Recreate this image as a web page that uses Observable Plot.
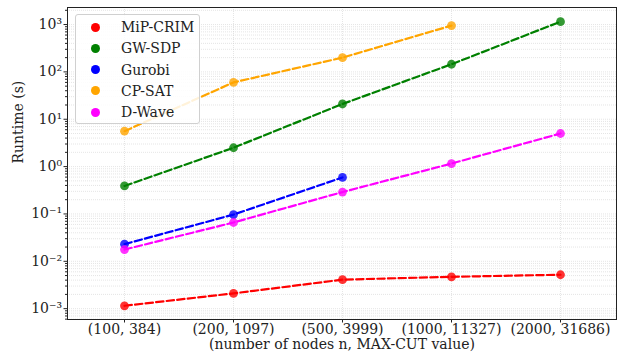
<!DOCTYPE html>
<html>
<head>
<meta charset="utf-8">
<script src="https://cdn.jsdelivr.net/npm/d3@7"></script>
<script src="https://cdn.jsdelivr.net/npm/@observablehq/plot@0.6"></script>
<style>
  html, body { margin: 0; padding: 0; background: white; }
  #wrap { position: relative; width: 622px; height: 354px; font-family: "DejaVu Serif", "Liberation Serif", serif; }
  #wrap svg, #wrap svg text { font-family: "DejaVu Serif", "Liberation Serif", serif !important; }
  #legend {
    position: absolute; left: 75px; top: 14px; width: 125px; height: 110px;
    box-sizing: border-box; border: 1px solid #d0d0d0; border-radius: 3px;
    background: rgba(255,255,255,0.85); font-size: 14px; color: #222;
  }
  .row { position: absolute; left: 0; height: 20px; display: flex; align-items: center; white-space: nowrap; }
  .sw { width: 9px; height: 9px; border-radius: 50%; margin-left: 15px; margin-right: 21px; }
</style>
</head>
<body>
<div id="wrap"></div>
<script>
const categories = ["(100, 384)", "(200, 1097)", "(500, 3999)", "(1000, 11327)", "(2000, 31686)"];
const seriesNames = ["MiP-CRIM", "GW-SDP", "Gurobi", "CP-SAT", "D-Wave"];
const seriesColors = ["#ff0000", "#008000", "#0000ff", "#ffa500", "#ff00ff"];
const mipCrim = [0.00115, 0.0021, 0.0041, 0.0047, 0.0052];
const gwSdp = [0.39, 2.5, 21, 145, 1150];
const gurobi = [0.023, 0.097, 0.59];
const cpSat = [5.6, 60, 200, 950];
const dWave = [0.0177, 0.066, 0.29, 1.16, 5.0];
const yTickExponents = [-3, -2, -1, 0, 1, 2, 3];

const seriesValues = [mipCrim, gwSdp, gurobi, cpSat, dWave];
const rows = [];
seriesValues.forEach((vals, si) => {
  vals.forEach((v, i) => rows.push({series: seriesNames[si], cat: categories[i], value: v}));
});

const majorTicks = yTickExponents.map(e => Math.pow(10, e));
const minorTicks = [];
for (let e = -4; e <= 3; e++) for (let m = 2; m <= 9; m++) {
  const v = m * Math.pow(10, e);
  if (v > 0.00059 && v < 2290) minorTicks.push(v);
}
const sup = {"-": "\u207b", "0": "\u2070", "1": "\u00b9", "2": "\u00b2", "3": "\u00b3"};
const fmt = d => "10" + String(Math.round(Math.log10(d))).split("").map(c => sup[c]).join("");

const gridStyle = {stroke: "#c8c8c8", strokeOpacity: 0.6, strokeDasharray: "1,1", strokeWidth: 0.8};
const serif = "DejaVu Serif, Liberation Serif, serif";

const chart = Plot.plot({
  width: 622, height: 354,
  marginLeft: 67, marginRight: 6, marginTop: 7, marginBottom: 35,
  style: {fontFamily: serif, fontSize: "13px", background: "white", color: "#222"},
  x: {type: "point", domain: categories, padding: 0.5, label: null},
  y: {type: "log", domain: [0.00059, 2290], label: null},
  color: {domain: seriesNames, range: seriesColors},
  marks: [
    Plot.ruleY(minorTicks, gridStyle),
    Plot.ruleY(majorTicks, gridStyle),
    Plot.ruleX(categories, gridStyle),
    Plot.line(rows, {x: "cat", y: "value", z: "series", stroke: "series", strokeWidth: 2.2, strokeDasharray: "7.4,3.2"}),
    Plot.dot(rows, {x: "cat", y: "value", fill: "series", r: 4.4, fillOpacity: 0.8}),
    Plot.axisX({tickSize: 3.5, tickPadding: 1.5, fontSize: 14, fontFamily: serif, label: null}),
    Plot.axisY(majorTicks, {tickSize: 3.5, tickPadding: 2, fontSize: 14, fontFamily: serif, tickFormat: fmt, label: null}),
    Plot.axisY(minorTicks, {tickSize: 2, tickFormat: () => "", label: null}),
    Plot.frame({stroke: "#222", strokeWidth: 1}),
    Plot.text(["(number of nodes n, MAX-CUT value)"], {frameAnchor: "bottom", dy: 29.5, fontSize: 14, fontFamily: serif, fill: "#222"}),
    Plot.text(["Runtime (s)"], {frameAnchor: "left", dx: -49, rotate: -90, fontSize: 14, fontFamily: serif, fill: "#222"})
  ]
});

const wrap = document.getElementById("wrap");
wrap.appendChild(chart);
const legend = document.createElement("div");
legend.id = "legend";
seriesNames.forEach((n, i) => {
  const row = document.createElement("div");
  row.className = "row";
  row.style.top = (2 + i * 21.3) + "px";
  const sw = document.createElement("span");
  sw.className = "sw";
  sw.style.background = seriesColors[i];
  const t = document.createElement("span");
  t.textContent = n;
  row.appendChild(sw); row.appendChild(t);
  legend.appendChild(row);
});
wrap.appendChild(legend);
</script>
</body>
</html>
